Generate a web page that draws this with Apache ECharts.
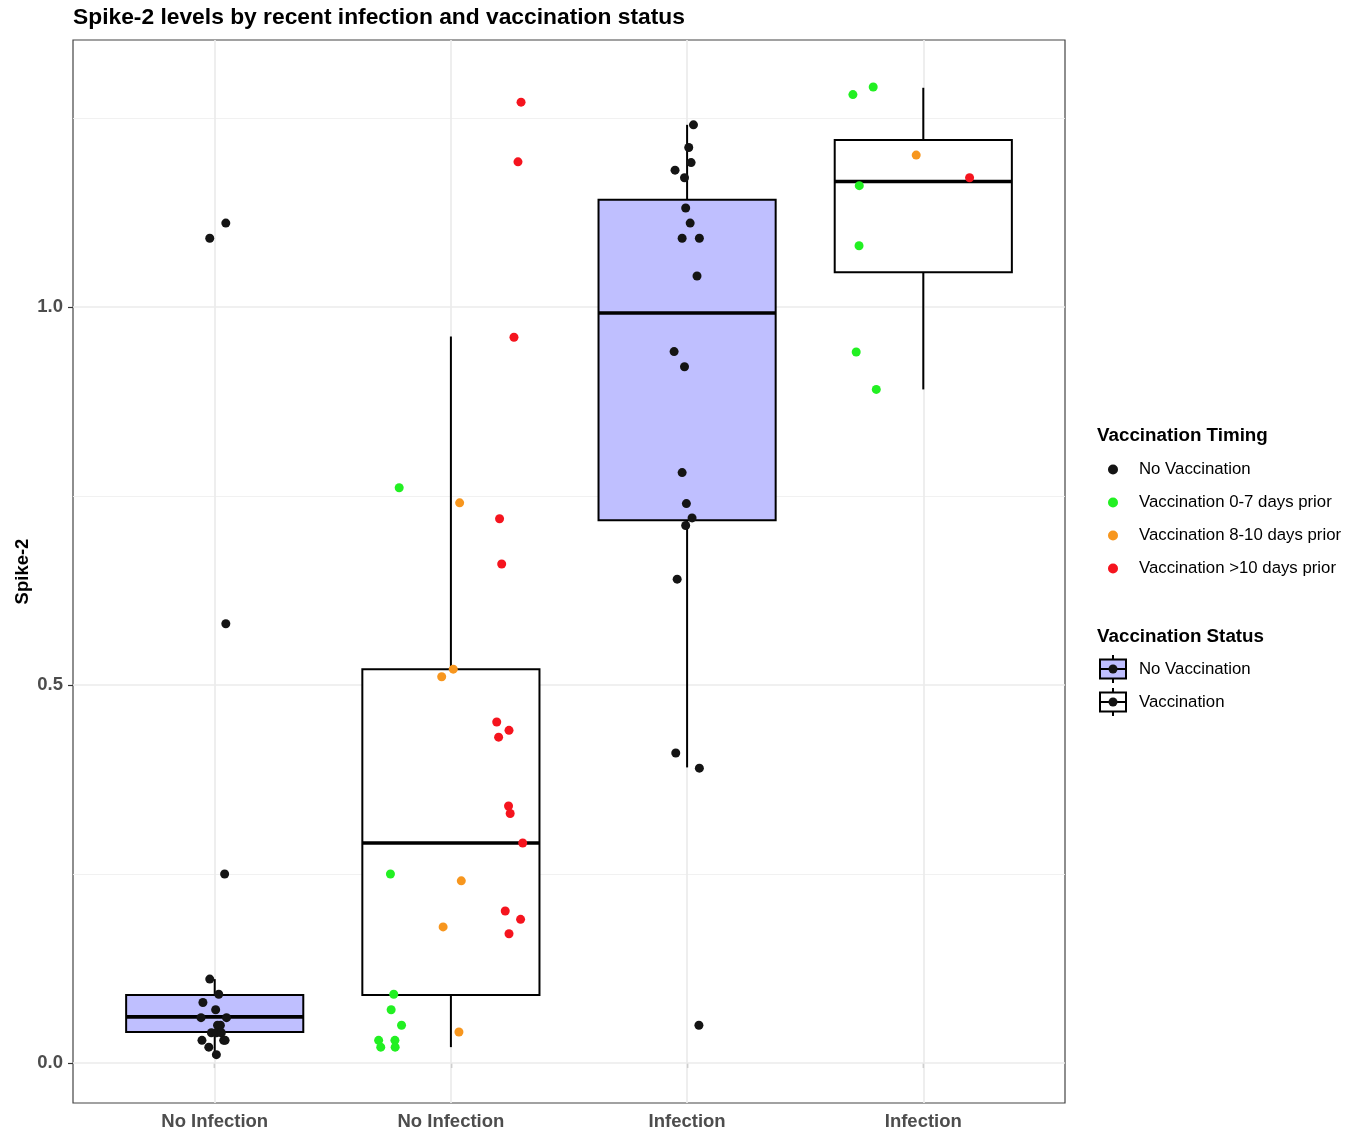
<!DOCTYPE html>
<html>
<head>
<meta charset="utf-8">
<script src="https://cdn.jsdelivr.net/npm/echarts@6/dist/echarts.min.js"></script>
<style>
  html, body { margin: 0; padding: 0; background: #fff; }
  #chart { width: 1348px; height: 1135px; }
</style>
</head>
<body>
<div id="chart"></div>
<script>
// ---------- data ----------
const categories = ['No Infection', 'No Infection', 'Infection', 'Infection'];
const yTickValues = [0, 0.5, 1.0];
const yMinorValues = [0.25, 0.75, 1.25];
const timingNames = ['No Vaccination', 'Vaccination 0-7 days prior', 'Vaccination 8-10 days prior', 'Vaccination >10 days prior'];
const statusNames = ['No Vaccination', 'Vaccination'];

// boxes: [group, lowerWhisker, q1, median, q3, upperWhisker]
const boxesNoVaccination = [
  [1, 0.011, 0.041, 0.061, 0.090, 0.111],
  [3, 0.391, 0.718, 0.992, 1.142, 1.241]
];
const boxesVaccination = [
  [2, 0.021, 0.090, 0.291, 0.521, 0.961],
  [4, 0.891, 1.046, 1.166, 1.221, 1.290]
];

// points: [group, jitter, value]
const ptsNoVaccination = [
  [1, -0.021, 0.111], [1, 0.017, 0.091], [1, -0.050, 0.080], [1, 0.004, 0.0705],
  [1, -0.058, 0.060], [1, 0.050, 0.060], [1, 0.024, 0.050], [1, 0.012, 0.050],
  [1, -0.014, 0.040], [1, 0.007, 0.040], [1, 0.028, 0.040], [1, -0.054, 0.030],
  [1, 0.038, 0.030], [1, 0.044, 0.030], [1, -0.025, 0.021], [1, 0.007, 0.011],
  [1, -0.021, 1.091], [1, 0.047, 1.111], [1, 0.047, 0.581], [1, 0.042, 0.250],
  [3, 0.027, 1.241], [3, 0.007, 1.211], [3, 0.017, 1.191], [3, -0.051, 1.181],
  [3, -0.011, 1.171], [3, -0.006, 1.131], [3, 0.013, 1.111], [3, -0.021, 1.091],
  [3, 0.052, 1.091], [3, 0.042, 1.041], [3, -0.055, 0.941], [3, -0.011, 0.921],
  [3, -0.021, 0.781], [3, -0.003, 0.740], [3, 0.021, 0.721], [3, -0.006, 0.711],
  [3, -0.042, 0.640], [3, -0.048, 0.410], [3, 0.052, 0.390], [3, 0.050, 0.050]
];
const ptsVac0to7 = [
  [2, -0.219, 0.761], [2, -0.256, 0.250], [2, -0.242, 0.091], [2, -0.253, 0.0705],
  [2, -0.209, 0.050], [2, -0.306, 0.030], [2, -0.237, 0.030], [2, -0.297, 0.021],
  [2, -0.236, 0.021],
  [4, -0.298, 1.281], [4, -0.212, 1.291], [4, -0.271, 1.1605], [4, -0.272, 1.081],
  [4, -0.284, 0.9405], [4, -0.199, 0.891]
];
const ptsVac8to10 = [
  [2, 0.037, 0.741], [2, 0.010, 0.521], [2, -0.039, 0.511], [2, 0.044, 0.241],
  [2, -0.033, 0.180], [2, 0.034, 0.041],
  [4, -0.030, 1.201]
];
const ptsVacOver10 = [
  [2, 0.297, 1.271], [2, 0.284, 1.192], [2, 0.267, 0.960], [2, 0.206, 0.720],
  [2, 0.215, 0.660], [2, 0.194, 0.451], [2, 0.246, 0.440], [2, 0.202, 0.431],
  [2, 0.244, 0.340], [2, 0.251, 0.330], [2, 0.304, 0.291], [2, 0.230, 0.201],
  [2, 0.295, 0.190], [2, 0.246, 0.171],
  [4, 0.196, 1.171]
];

// ---------- styles ----------
const FONT = '"Liberation Sans", Arial, Helvetica, sans-serif';
const BOX_WIDTH = 0.75;
const timingColors = ['#141414', '#22F022', '#F7961E', '#F5141E'];
const boxFills = ['#BFBFFF', '#FFFFFF'];

function boxIcon(fill) {
  const svg = '<svg xmlns="http://www.w3.org/2000/svg" width="28" height="30" viewBox="0 0 28 30">' +
    '<line x1="14" y1="1" x2="14" y2="29" stroke="#000" stroke-width="2"/>' +
    '<rect x="1" y="5.5" width="26" height="19" fill="' + fill + '" stroke="#000" stroke-width="2"/>' +
    '<line x1="1" y1="15" x2="27" y2="15" stroke="#000" stroke-width="2"/>' +
    '<circle cx="14" cy="15" r="4.5" fill="#141414"/></svg>';
  return 'image://data:image/svg+xml;charset=utf-8,' + encodeURIComponent(svg);
}

function toXY(arr) { return arr.map(p => [p[0] + p[1], p[2]]); }

function renderBox(fill) {
  return function (params, api) {
    const x = api.value(0);
    const lo = api.coord([x, api.value(1)]);
    const q1 = api.coord([x, api.value(2)]);
    const med = api.coord([x, api.value(3)]);
    const q3 = api.coord([x, api.value(4)]);
    const hi = api.coord([x, api.value(5)]);
    const left = api.coord([x - BOX_WIDTH / 2, api.value(2)])[0];
    const right = api.coord([x + BOX_WIDTH / 2, api.value(2)])[0];
    const ls = { stroke: '#000', lineWidth: 2 };
    return {
      type: 'group',
      children: [
        { type: 'line', shape: { x1: lo[0], y1: lo[1], x2: q1[0], y2: q1[1] }, style: ls },
        { type: 'line', shape: { x1: q3[0], y1: q3[1], x2: hi[0], y2: hi[1] }, style: ls },
        { type: 'rect', shape: { x: left, y: q3[1], width: right - left, height: q1[1] - q3[1] },
          style: { fill: fill, stroke: '#000', lineWidth: 2 } },
        { type: 'line', shape: { x1: left, y1: med[1], x2: right, y2: med[1] },
          style: { stroke: '#000', lineWidth: 3.6 } }
      ]
    };
  };
}

const chart = echarts.init(document.getElementById('chart'), null, { renderer: 'canvas' });

const gridMajor = { color: '#EBEBEB', width: 1.7, type: 'solid' };
const gridMinor = { color: '#EFEFEF', width: 0.9, type: 'solid' };

const series = [
  {
    name: 'grid',
    type: 'scatter',
    data: [],
    silent: true,
    z: 1,
    markLine: {
      z: 1,
      silent: true, symbol: 'none', animation: false,
      label: { show: false },
      emphasis: { disabled: true },
      data: [
        ...yMinorValues.map(v => ({ yAxis: v, lineStyle: gridMinor })),
        ...yTickValues.map(v => ({ yAxis: v, lineStyle: gridMajor })),
        ...categories.map((c, i) => ({ xAxis: i + 1, lineStyle: gridMajor }))
      ]
    }
  }
];

// scatter series first so legend 1 picks their colors
const ptsAll = [ptsNoVaccination, ptsVac0to7, ptsVac8to10, ptsVacOver10];
ptsAll.forEach((pts, i) => {
  series.push({
    name: timingNames[i],
    type: 'scatter',
    data: toXY(pts),
    symbol: 'circle',
    symbolSize: 9,
    itemStyle: { color: timingColors[i], opacity: 1 },
    z: 5,
    animation: false
  });
});

[boxesNoVaccination, boxesVaccination].forEach((boxes, i) => {
  series.push({
    name: statusNames[i],
    type: 'custom',
    renderItem: renderBox(boxFills[i]),
    data: boxes,
    encode: { x: 0, y: [1, 2, 3, 4, 5] },
    z: 3,
    animation: false
  });
});

const option = {
  backgroundColor: '#FFFFFF',
  animation: false,
  textStyle: { fontFamily: FONT },
  title: [
    {
      text: 'Spike-2 levels by recent infection and vaccination status',
      left: 73, top: 6, padding: 0,
      textStyle: { fontFamily: FONT, fontSize: 22.8, fontWeight: 'bold', color: '#000' }
    },
    {
      text: 'Vaccination Timing',
      left: 1097, top: 426, padding: 0,
      textStyle: { fontFamily: FONT, fontSize: 18.8, fontWeight: 'bold', color: '#000' }
    },
    {
      text: 'Vaccination Status',
      left: 1097, top: 627, padding: 0,
      textStyle: { fontFamily: FONT, fontSize: 18.8, fontWeight: 'bold', color: '#000' }
    }
  ],
  legend: [
    {
      orient: 'vertical',
      left: 1108, top: 461, padding: 0,
      itemWidth: 42, itemHeight: 10, itemGap: 16,
      selectedMode: false,
      data: timingNames.map((n, i) => ({ name: n, icon: 'circle', itemStyle: { color: timingColors[i], borderWidth: 0 } })),
      textStyle: { fontFamily: FONT, fontSize: 16.8, color: '#000', lineHeight: 17 }
    },
    {
      orient: 'vertical',
      left: 1092, top: 654, padding: 0,
      itemWidth: 42, itemHeight: 30, itemGap: 3,
      selectedMode: false,
      data: statusNames.map((n, i) => ({ name: n, icon: boxIcon(boxFills[i]) })),
      textStyle: { fontFamily: FONT, fontSize: 16.8, color: '#000', lineHeight: 17 }
    }
  ],
  grid: {
    left: 73, right: 283, top: 40, bottom: 32,
    show: true, borderColor: '#444444', borderWidth: 1.2, backgroundColor: '#FFFFFF',
    containLabel: false
  },
  xAxis: {
    type: 'value',
    min: 0.4, max: 4.6,
    axisLine: { show: false },
    splitLine: { show: false },
    axisTick: { show: true, length: 5, lineStyle: { color: '#333333', width: 1.2 }, customValues: categories.map((c, i) => i + 1) },
    axisLabel: {
      customValues: categories.map((c, i) => i + 1),
      formatter: v => categories[Math.round(v) - 1] || '',
      margin: 9,
      fontFamily: FONT, fontSize: 18.5, fontWeight: 'bold', color: '#4D4D4D'
    }
  },
  yAxis: {
    type: 'value',
    min: -0.0529, max: 1.3532,
    name: 'Spike-2',
    nameLocation: 'middle',
    nameGap: 41,
    nameMoveOverlap: false,
    nameTextStyle: { fontFamily: FONT, fontSize: 18.5, fontWeight: 'bold', color: '#000' },
    axisLine: { show: false },
    splitLine: { show: false },
    axisTick: { show: true, length: 5, lineStyle: { color: '#333333', width: 1.2 }, customValues: yTickValues },
    axisLabel: {
      customValues: yTickValues,
      formatter: v => v.toFixed(1),
      margin: 10,
      fontFamily: FONT, fontSize: 18.5, fontWeight: 'bold', color: '#4D4D4D'
    }
  },
  series: series
};

chart.setOption(option);
</script>
</body>
</html>
